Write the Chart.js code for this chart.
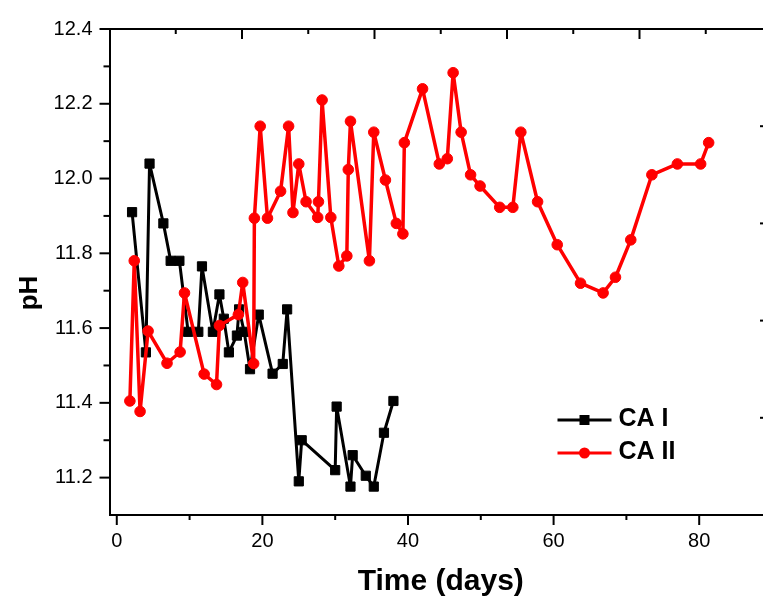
<!DOCTYPE html>
<html>
<head>
<meta charset="utf-8">
<script src="https://cdn.jsdelivr.net/npm/chart.js@4.4.0/dist/chart.umd.min.js"></script>
<style>
  html, body { margin: 0; padding: 0; background: #fff; overflow: hidden; }
  canvas { display: block; }
</style>
</head>
<body>
<canvas id="ph-chart" width="790" height="600"></canvas>
<script>
// pH vs time

// CA I
const caOneDays = [2.1, 4.0, 4.5, 6.4, 7.4, 8.6, 9.8, 11.2, 11.7, 13.2,
  14.1, 14.7, 15.4, 16.5, 16.8, 17.5, 18.3, 19.5, 21.4, 22.8,
  23.4, 25.0, 25.4, 30.0, 30.2, 32.1, 32.4, 34.2, 35.3, 36.7, 38.0];
const caOnePh = [11.91, 11.535, 12.04, 11.88, 11.78, 11.78, 11.59, 11.59, 11.765, 11.59,
  11.69, 11.625, 11.535, 11.58, 11.65, 11.59, 11.49, 11.636, 11.478, 11.504,
  11.65, 11.19, 11.30, 11.22, 11.39, 11.176, 11.26, 11.205, 11.176, 11.32, 11.405];

// CA II
const caTwoDays = [1.8, 2.4, 3.2, 4.3, 6.9, 8.7, 9.3, 12.0, 13.7, 14.1,
  16.7, 17.3, 18.8, 18.9, 19.7, 20.7, 22.5, 23.6, 24.2, 25.0,
  26.0, 27.6, 27.7, 28.2, 29.4, 30.5, 31.6, 31.8, 32.1, 34.7,
  35.3, 36.9, 38.4, 39.3, 39.5, 42.0, 44.3, 45.4, 46.2, 47.3,
  48.6, 49.9, 52.6, 54.4, 55.5, 57.8, 60.5, 63.7, 66.8, 68.5,
  70.6, 73.5, 77.0, 80.2, 81.3];
const caTwoPh = [11.405, 11.78, 11.377, 11.592, 11.506, 11.536, 11.694, 11.477, 11.449, 11.607,
  11.636, 11.722, 11.505, 11.894, 12.14, 11.894, 11.966, 12.14, 11.909, 12.039,
  11.938, 11.896, 11.938, 12.21, 11.896, 11.766, 11.793, 12.024, 12.153, 11.78,
  12.124, 11.996, 11.88, 11.852, 12.096, 12.24, 12.039, 12.053, 12.283, 12.124,
  12.01, 11.98, 11.923, 11.923, 12.124, 11.938, 11.823, 11.72, 11.694, 11.736,
  11.836, 12.01, 12.039, 12.039, 12.096];

// axis ticks
const dayTicks = [0, 20, 40, 60, 80];
const dayMinor = [10, 30, 50, 70, 90];
const phTicks = [11.2, 11.4, 11.6, 11.8, 12.0, 12.2, 12.4];
const phMinor = [11.3, 11.5, 11.7, 11.9, 12.1, 12.3];
// mirrored top / right frame (own scale in the original)
const topMajor = [2, 4, 6, 8, 10];
const topMinor = [1, 3, 5, 7, 9];
const rightTicks = [1, 2, 3, 4];

const seriesLabels = ["CA I", "CA II"];

function toPoints(xs, ys) {
  return xs.map((x, i) => ({ x: x, y: ys[i] }));
}

// tick marks, axis titles and the inset legend
const frameExtras = {
  id: "frameExtras",
  afterDraw(chart) {
    const { ctx, chartArea: a, scales } = chart;
    ctx.save();
    ctx.strokeStyle = "#000";
    ctx.lineWidth = 2;
    const mark = (x1, y1, x2, y2) => {
      ctx.beginPath();
      ctx.moveTo(x1, y1);
      ctx.lineTo(x2, y2);
      ctx.stroke();
    };
    dayTicks.forEach(v => { const x = scales.x.getPixelForValue(v); mark(x, a.bottom, x, a.bottom + 10); });
    dayMinor.forEach(v => { const x = scales.x.getPixelForValue(v); mark(x, a.bottom, x, a.bottom + 5); });
    phTicks.forEach(v => { const y = scales.y.getPixelForValue(v); mark(a.left, y, a.left - 10, y); });
    phMinor.forEach(v => { const y = scales.y.getPixelForValue(v); mark(a.left, y, a.left - 6, y); });
    topMajor.forEach(v => { const x = scales.x2.getPixelForValue(v); mark(x, a.top, x, a.top + 10); });
    topMinor.forEach(v => { const x = scales.x2.getPixelForValue(v); mark(x, a.top, x, a.top + 5); });
    rightTicks.forEach(v => { const y = scales.y2.getPixelForValue(v); mark(a.right, y, a.right - 12, y); });

    // axis titles
    ctx.fillStyle = "#000";
    ctx.font = "bold 30px 'Liberation Sans', Arial, sans-serif";
    ctx.textAlign = "center";
    ctx.textBaseline = "alphabetic";
    ctx.fillText("Time (days)", (a.left + a.right) / 2, 590);
    ctx.save();
    ctx.translate(37, 293);
    ctx.rotate(-Math.PI / 2);
    ctx.font = "bold 26px 'Liberation Sans', Arial, sans-serif";
    ctx.fillText("pH", 0, 0);
    ctx.restore();

    // legend
    const lx = a.left + 448, ly = 420, gap = 33;
    chart.data.datasets.forEach((ds, i) => {
      const y = ly + i * gap;
      ctx.strokeStyle = ds.borderColor;
      ctx.lineWidth = 3;
      mark(lx, y, lx + 54, y);
      ctx.fillStyle = ds.pointBackgroundColor;
      ctx.beginPath();
      if (ds.pointStyle === "rect") {
        ctx.rect(lx + 22, y - 5, 10, 10);
      } else {
        ctx.arc(lx + 27, y, 5.5, 0, Math.PI * 2);
      }
      ctx.fill();
      ctx.fillStyle = "#000";
      ctx.font = "bold 25px 'Liberation Sans', Arial, sans-serif";
      ctx.textAlign = "left";
      ctx.textBaseline = "middle";
      ctx.fillText(ds.label, lx + 61, y - 1);
    });
    ctx.restore();
  }
};

const ctx = document.getElementById("ph-chart").getContext("2d");

const tickFont = { family: "'Liberation Sans', Arial, sans-serif", size: 20 };

const config = {
  type: "line",
  data: {
    datasets: [
      {
        label: seriesLabels[0],
        data: toPoints(caOneDays, caOnePh),
        borderColor: "#000000",
        backgroundColor: "#000000",
        pointBackgroundColor: "#000000",
        pointBorderColor: "#000000",
        pointStyle: "rect",
        pointRadius: 6.5,
        pointBorderWidth: 1,
        borderWidth: 3,
        borderJoinStyle: "round",
        tension: 0,
        order: 1,
      },
      {
        label: seriesLabels[1],
        data: toPoints(caTwoDays, caTwoPh),
        borderColor: "#ff0000",
        backgroundColor: "#ff0000",
        pointBackgroundColor: "#ff0000",
        pointBorderColor: "#ff0000",
        pointStyle: "circle",
        pointRadius: 5.3,
        pointBorderWidth: 1,
        borderWidth: 3.5,
        borderJoinStyle: "round",
        tension: 0,
        order: 0,
      },
    ],
  },
  options: {
    responsive: false,
    animation: false,
    devicePixelRatio: 1,
    layout: { padding: 0 },
    plugins: {
      legend: { display: false },
      tooltip: { enabled: false },
      title: { display: false },
    },
    scales: {
      x: {
        type: "linear",
        position: "bottom",
        min: -1,
        max: 90,
        afterBuildTicks: s => { s.ticks = dayTicks.map(v => ({ value: v })); },
        afterFit: s => { s.height = 85; },
        grid: { display: false, drawTicks: false },
        border: { display: true, color: "#000", width: 2 },
        ticks: { color: "#000", font: tickFont, padding: 14, maxRotation: 0 },
      },
      x2: {
        type: "linear",
        position: "top",
        min: 0,
        max: 10,
        afterFit: s => { s.height = 23; },
        grid: { display: false, drawTicks: false },
        border: { display: true, color: "#000", width: 2 },
        ticks: { display: false },
      },
      y: {
        type: "linear",
        position: "left",
        min: 11.1,
        max: 12.4,
        afterBuildTicks: s => { s.ticks = phTicks.map(v => ({ value: v })); },
        afterFit: s => { s.width = 109.5; },
        grid: { display: false, drawTicks: false },
        border: { display: true, color: "#000", width: 2 },
        ticks: { color: "#000", font: tickFont, padding: 17, callback: v => Number(v).toFixed(1) },
      },
      y2: {
        type: "linear",
        position: "right",
        min: 0,
        max: 5,
        afterFit: s => { s.width = 18; },
        grid: { display: false, drawTicks: false },
        border: { display: true, color: "#000", width: 2 },
        ticks: { display: false },
      },
    },
  },
  plugins: [frameExtras],
};

const phChart = new Chart(ctx, config);
</script>
</body>
</html>
